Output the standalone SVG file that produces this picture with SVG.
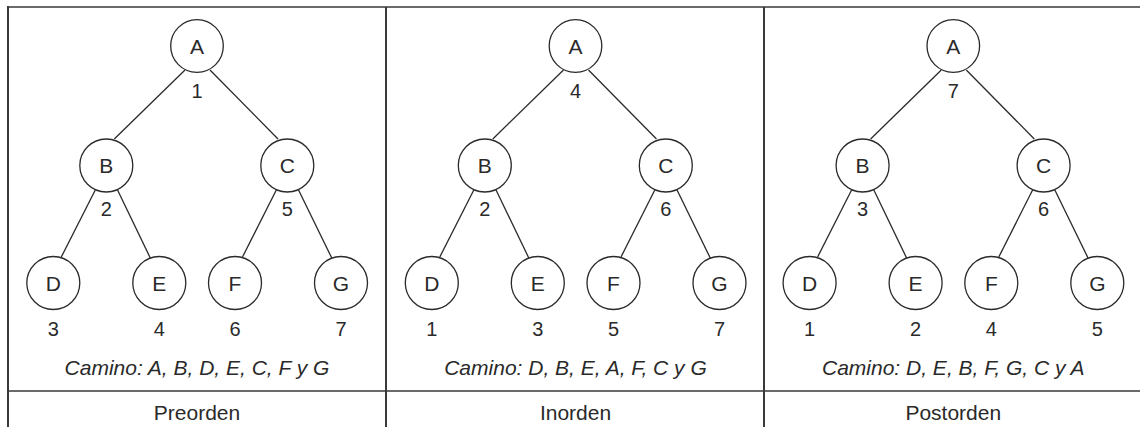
<svg xmlns="http://www.w3.org/2000/svg" width="1140" height="427" viewBox="0 0 1140 427">
<style>
.frameH{stroke:#6a6a6a;stroke-width:2;fill:none}
.frameV{stroke:#3a3a3a;stroke-width:2;fill:none}
.node circle{fill:#fff;stroke:#2a2a2a;stroke-width:1.3}
.edge{stroke:#2a2a2a;stroke-width:1.3;fill:none}
.lbl{font-family:"Liberation Sans",Arial,sans-serif;font-size:21px;fill:#2a2a2a;text-anchor:middle}
.num{font-family:"Liberation Sans",Arial,sans-serif;font-size:20px;fill:#2a2a2a;text-anchor:middle}
.path{font-family:"Liberation Sans",Arial,sans-serif;font-size:21px;font-style:italic;fill:#2a2a2a;text-anchor:middle}
.title{font-family:"Liberation Sans",Arial,sans-serif;font-size:21px;fill:#2a2a2a;text-anchor:middle}
</style>
<g id="frame">
<line class="frameH" x1="7" y1="7" x2="1140" y2="7"/>
<line class="frameH" x1="8" y1="391" x2="1140" y2="391"/>
<line class="frameV" x1="8" y1="6" x2="8" y2="427"/>
<line class="frameV" x1="386" y1="7" x2="386" y2="427"/>
<line class="frameV" x1="764" y1="7" x2="764" y2="427"/>
</g>

<!-- Panel 1: Preorden -->
<g id="preorden">
<g id="preorden-connectors">
<line class="edge" x1="185" y1="70" x2="114.3" y2="139"/>
<line class="edge" x1="210" y1="70" x2="278" y2="139"/>
<line class="edge" x1="95.3" y1="190" x2="61.3" y2="257"/>
<line class="edge" x1="117.3" y1="189.5" x2="150.3" y2="258"/>
<line class="edge" x1="276.3" y1="190" x2="242.5" y2="257"/>
<line class="edge" x1="298.3" y1="189.5" x2="332" y2="258.5"/>
</g>
<g id="pre-A" class="node"><circle cx="197" cy="46" r="26.3"/><text class="lbl" x="197" y="53.5">A</text><text class="num" x="197" y="97.5">1</text></g>
<g id="pre-B" class="node"><circle cx="106.3" cy="165.5" r="26.5"/><text class="lbl" x="106.3" y="173">B</text><text class="num" x="106.3" y="216">2</text></g>
<g id="pre-C" class="node"><circle cx="287.3" cy="165.5" r="26.5"/><text class="lbl" x="287.3" y="173">C</text><text class="num" x="287.3" y="216">5</text></g>
<g id="pre-D" class="node"><circle cx="53.3" cy="283" r="26.5"/><text class="lbl" x="53.3" y="290.5">D</text><text class="num" x="53.3" y="336">3</text></g>
<g id="pre-E" class="node"><circle cx="159.3" cy="283" r="26.5"/><text class="lbl" x="159.3" y="290.5">E</text><text class="num" x="159.3" y="336">4</text></g>
<g id="pre-F" class="node"><circle cx="235" cy="283" r="26.5"/><text class="lbl" x="235" y="290.5">F</text><text class="num" x="235" y="336">6</text></g>
<g id="pre-G" class="node"><circle cx="341" cy="283" r="26.5"/><text class="lbl" x="341" y="290.5">G</text><text class="num" x="341" y="336">7</text></g>
<text class="path" x="197" y="375">Camino: A, B, D, E, C, F y G</text>
<text class="title" x="197" y="420">Preorden</text>
</g>

<!-- Panel 2: Inorden -->
<g id="inorden" transform="translate(378.5,0)">
<g id="inorden-connectors">
<line class="edge" x1="185" y1="70" x2="114.3" y2="139"/>
<line class="edge" x1="210" y1="70" x2="278" y2="139"/>
<line class="edge" x1="95.3" y1="190" x2="61.3" y2="257"/>
<line class="edge" x1="117.3" y1="189.5" x2="150.3" y2="258"/>
<line class="edge" x1="276.3" y1="190" x2="242.5" y2="257"/>
<line class="edge" x1="298.3" y1="189.5" x2="332" y2="258.5"/>
</g>
<g id="in-A" class="node"><circle cx="197" cy="46" r="26.3"/><text class="lbl" x="197" y="53.5">A</text><text class="num" x="197" y="97.5">4</text></g>
<g id="in-B" class="node"><circle cx="106.3" cy="165.5" r="26.5"/><text class="lbl" x="106.3" y="173">B</text><text class="num" x="106.3" y="216">2</text></g>
<g id="in-C" class="node"><circle cx="287.3" cy="165.5" r="26.5"/><text class="lbl" x="287.3" y="173">C</text><text class="num" x="287.3" y="216">6</text></g>
<g id="in-D" class="node"><circle cx="53.3" cy="283" r="26.5"/><text class="lbl" x="53.3" y="290.5">D</text><text class="num" x="53.3" y="336">1</text></g>
<g id="in-E" class="node"><circle cx="159.3" cy="283" r="26.5"/><text class="lbl" x="159.3" y="290.5">E</text><text class="num" x="159.3" y="336">3</text></g>
<g id="in-F" class="node"><circle cx="235" cy="283" r="26.5"/><text class="lbl" x="235" y="290.5">F</text><text class="num" x="235" y="336">5</text></g>
<g id="in-G" class="node"><circle cx="341" cy="283" r="26.5"/><text class="lbl" x="341" y="290.5">G</text><text class="num" x="341" y="336">7</text></g>
<text class="path" x="197" y="375">Camino: D, B, E, A, F, C y G</text>
<text class="title" x="197" y="420">Inorden</text>
</g>

<!-- Panel 3: Postorden -->
<g id="postorden" transform="translate(756.3,0)">
<g id="postorden-connectors">
<line class="edge" x1="185" y1="70" x2="114.3" y2="139"/>
<line class="edge" x1="210" y1="70" x2="278" y2="139"/>
<line class="edge" x1="95.3" y1="190" x2="61.3" y2="257"/>
<line class="edge" x1="117.3" y1="189.5" x2="150.3" y2="258"/>
<line class="edge" x1="276.3" y1="190" x2="242.5" y2="257"/>
<line class="edge" x1="298.3" y1="189.5" x2="332" y2="258.5"/>
</g>
<g id="post-A" class="node"><circle cx="197" cy="46" r="26.3"/><text class="lbl" x="197" y="53.5">A</text><text class="num" x="197" y="97.5">7</text></g>
<g id="post-B" class="node"><circle cx="106.3" cy="165.5" r="26.5"/><text class="lbl" x="106.3" y="173">B</text><text class="num" x="106.3" y="216">3</text></g>
<g id="post-C" class="node"><circle cx="287.3" cy="165.5" r="26.5"/><text class="lbl" x="287.3" y="173">C</text><text class="num" x="287.3" y="216">6</text></g>
<g id="post-D" class="node"><circle cx="53.3" cy="283" r="26.5"/><text class="lbl" x="53.3" y="290.5">D</text><text class="num" x="53.3" y="336">1</text></g>
<g id="post-E" class="node"><circle cx="159.3" cy="283" r="26.5"/><text class="lbl" x="159.3" y="290.5">E</text><text class="num" x="159.3" y="336">2</text></g>
<g id="post-F" class="node"><circle cx="235" cy="283" r="26.5"/><text class="lbl" x="235" y="290.5">F</text><text class="num" x="235" y="336">4</text></g>
<g id="post-G" class="node"><circle cx="341" cy="283" r="26.5"/><text class="lbl" x="341" y="290.5">G</text><text class="num" x="341" y="336">5</text></g>
<text class="path" x="197" y="375">Camino: D, E, B, F, G, C y A</text>
<text class="title" x="197" y="420">Postorden</text>
</g>
</svg>
